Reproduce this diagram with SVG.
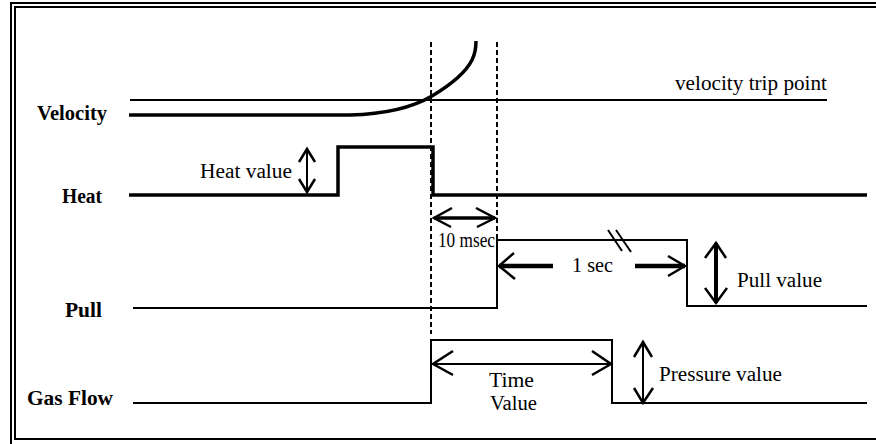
<svg xmlns="http://www.w3.org/2000/svg" width="876" height="444" viewBox="0 0 876 444">
<style>
  .frame{fill:none;stroke:#000;stroke-width:2}
  .thick{fill:none;stroke:#000;stroke-width:3.5}
  .thin{fill:none;stroke:#000;stroke-width:2}
  .dash{fill:none;stroke:#000;stroke-width:2;stroke-dasharray:5,3}
  .head{fill:none;stroke:#000;stroke-width:2.5;stroke-linecap:butt}
  .lbl{font-family:"Liberation Serif","Times New Roman",serif;font-size:20px;font-weight:bold;fill:#000}
  .txt{font-family:"Liberation Serif","Times New Roman",serif;font-size:20px;fill:#000}
</style>
<rect width="876" height="444" fill="#fff"/>
<g id="frame">
  <rect class="frame" x="11" y="3" width="880" height="460"/>
  <rect class="frame" x="15" y="7" width="880" height="432"/>
</g>
<g id="velocity">
  <text class="lbl" x="37" y="120" textLength="70" lengthAdjust="spacingAndGlyphs">Velocity</text>
  <path class="thick" d="M129,115 L350,115 C390,114 415,106 432,96 C452,84 466,72 472,60 C476,52 476,46 476,41"/>
</g>
<g id="trip-point">
  <line class="thin" x1="130" y1="100" x2="827" y2="100"/>
  <text class="txt" x="675" y="90" textLength="152" lengthAdjust="spacingAndGlyphs">velocity trip point</text>
</g>
<g id="heat">
  <text class="lbl" x="62" y="203" textLength="40" lengthAdjust="spacingAndGlyphs">Heat</text>
  <polyline class="thick" points="129,195 338,195 338,147 433,147 433,195 867,195"/>
  <text class="txt" x="200" y="178" textLength="92" lengthAdjust="spacingAndGlyphs">Heat value</text>
</g>
<g id="pull">
  <text class="lbl" x="65" y="317" textLength="37" lengthAdjust="spacingAndGlyphs">Pull</text>
  <polyline class="thin" points="133,308 497,308 497,240 687,240 687,306 867,306"/>
  <text class="txt" x="737" y="287" textLength="85" lengthAdjust="spacingAndGlyphs">Pull value</text>
  <text class="txt" x="572" y="272" textLength="41" lengthAdjust="spacingAndGlyphs">1 sec</text>
</g>
<g id="gas-flow">
  <text class="lbl" x="27" y="405" textLength="86" lengthAdjust="spacingAndGlyphs">Gas Flow</text>
  <polyline class="thin" points="133,403 431,403 431,340 612,340 612,403 867,403"/>
  <text class="txt" x="489" y="387" textLength="45" lengthAdjust="spacingAndGlyphs">Time</text>
  <text class="txt" x="490" y="410" textLength="47" lengthAdjust="spacingAndGlyphs">Value</text>
  <text class="txt" x="659" y="381" textLength="123" lengthAdjust="spacingAndGlyphs">Pressure value</text>
</g>
<g id="timing-10msec">
  <text class="txt" x="438" y="247" font-size="17" textLength="57" lengthAdjust="spacingAndGlyphs">10 msec</text>
</g>
<g id="connectors">
  <line class="dash" x1="431" y1="42" x2="431" y2="334"/>
  <line class="dash" x1="497" y1="42" x2="497" y2="240"/>
  <!-- break mark -->
  <line class="thin" x1="608" y1="230" x2="622" y2="251"/>
  <line class="thin" x1="616" y1="230" x2="631" y2="252"/>
  <!-- heat value -->
  <line class="thin" x1="307" y1="149" x2="307" y2="192"/>
  <polyline class="head" points="299,162 307,149 315,162"/>
  <polyline class="head" points="299,179 307,192 315,179"/>
  <!-- 10 msec -->
  <line class="thick" x1="434" y1="218" x2="495" y2="218"/>
  <polyline class="head" points="452,208 434,218 451,227"/>
  <polyline class="head" points="476,208 495,218 477,227"/>
  <!-- 1 sec -->
  <line stroke="#000" stroke-width="4.5" x1="499" y1="266" x2="553" y2="266"/>
  <line stroke="#000" stroke-width="4.5" x1="635" y1="266" x2="685" y2="266"/>
  <polyline class="head" points="514,253 499,266 515,279"/>
  <polyline class="head" points="668,256 685,266 668,276"/>
  <!-- pull value -->
  <line stroke="#000" stroke-width="4" x1="716" y1="243" x2="716" y2="303"/>
  <polyline class="head" points="705,258 716,243 726,258"/>
  <polyline class="head" points="705,288 716,303 727,288"/>
  <!-- time value -->
  <line class="thin" x1="433" y1="364" x2="611" y2="364"/>
  <polyline class="head" points="453,351 433,364 453,375"/>
  <polyline class="head" points="592,351 611,364 592,375"/>
  <!-- pressure value -->
  <line class="thin" x1="643" y1="342" x2="643" y2="403"/>
  <polyline class="head" points="634,357 643,342 652,357"/>
  <polyline class="head" points="634,388 643,403 653,388"/>
</g>
</svg>
